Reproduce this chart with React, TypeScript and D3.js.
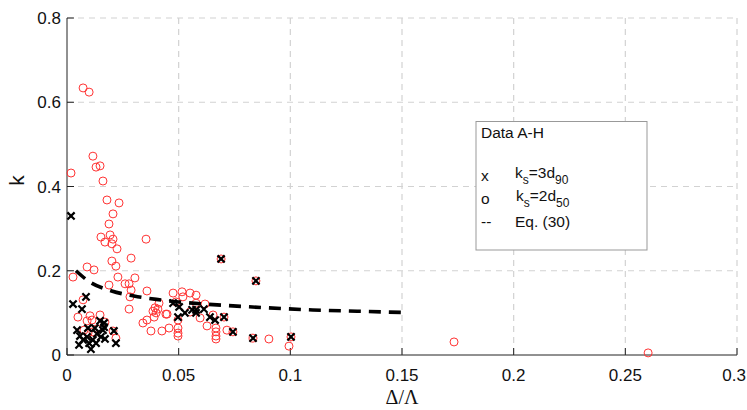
import React from "react";
import * as d3 from "d3";

// Red circles: k_s = 2 d50  [x, k]
const circleX = [0.0072,0.0099,0.0018,0.0116,0.013,0.0148,0.0161,0.0179,0.0233,0.0206,0.0188,0.0152,0.0193,0.017,0.0206,0.0201,0.0224,0.0354,0.0201,0.0219,0.0287,0.009,0.0121,0.0027,0.0228,0.0188,0.026,0.0278,0.0304,0.0287,0.0358,0.0282,0.0072,0.0278,0.0049,0.0103,0.009,0.0112,0.0148,0.017,0.0076,0.0094,0.0116,0.0134,0.0219,0.0206,0.034,0.0358,0.0385,0.0394,0.0412,0.0448,0.0376,0.0425,0.0457,0.0475,0.0515,0.0551,0.0578,0.0519,0.0407,0.0399,0.039,0.0443,0.0497,0.0497,0.0497,0.0497,0.0578,0.0618,0.0654,0.0627,0.0667,0.0667,0.0667,0.0667,0.0716,0.0904,0.0994,0.1733,0.2602,0.069,0.0846,0.1003,0.0833,0.0743,0.0488,0.0551,0.0596,0.0703];
const circleK = [0.634,0.624,0.432,0.472,0.446,0.449,0.413,0.368,0.361,0.335,0.311,0.28,0.285,0.268,0.275,0.264,0.252,0.275,0.223,0.211,0.23,0.209,0.202,0.185,0.185,0.166,0.169,0.169,0.183,0.154,0.152,0.138,0.131,0.109,0.09,0.093,0.081,0.083,0.095,0.078,0.059,0.052,0.055,0.062,0.04,0.057,0.076,0.083,0.104,0.112,0.123,0.097,0.057,0.057,0.064,0.147,0.15,0.147,0.142,0.138,0.109,0.1,0.09,0.097,0.083,0.052,0.045,0.064,0.123,0.121,0.095,0.069,0.064,0.055,0.045,0.038,0.059,0.038,0.021,0.031,0.005,0.228,0.176,0.043,0.04,0.055,0.126,0.102,0.088,0.09];

// Black crosses: k_s = 3 d90
const crossX = [0.0018,0.0027,0.0085,0.0067,0.0045,0.0058,0.0072,0.009,0.0099,0.0107,0.0116,0.013,0.0134,0.0148,0.0152,0.0161,0.0166,0.0166,0.017,0.021,0.0219,0.0475,0.0502,0.0497,0.0528,0.056,0.0578,0.0578,0.0613,0.064,0.0663,0.0703,0.0743,0.0833,0.069,0.0846,0.1003,0.0094,0.0125,0.0054];
const crossK = [0.33,0.121,0.138,0.109,0.059,0.045,0.036,0.043,0.028,0.014,0.036,0.028,0.05,0.081,0.043,0.059,0.066,0.076,0.038,0.057,0.028,0.123,0.114,0.09,0.1,0.107,0.1,0.107,0.109,0.09,0.083,0.09,0.055,0.04,0.228,0.176,0.043,0.064,0.064,0.024];

// Eq. (30) dashed curve
const eqX = [0.004,0.01,0.02,0.03,0.04,0.05,0.07,0.09,0.11,0.13,0.15];
const eqK = [0.2,0.174,0.152,0.14,0.132,0.126,0.118,0.112,0.107,0.104,0.101];

const xTicks = [0, 0.05, 0.1, 0.15, 0.2, 0.25, 0.3];
const yTicks = [0, 0.2, 0.4, 0.6, 0.8];

const W = 747, H = 410;
const M = { left: 67, right: 737, top: 18, bottom: 355 };

export default function App() {
  const x = d3.scaleLinear().domain([0, 0.3]).range([M.left, M.right]);
  const y = d3.scaleLinear().domain([0, 0.8]).range([M.bottom, M.top]);
  const line = d3.line<number>().x((_, i) => x(eqX[i])).y((_, i) => y(eqK[i])).curve(d3.curveMonotoneX);
  const font = "'Liberation Sans', Arial, Helvetica, sans-serif";
  const fmt = (v: number) => (v === 0 ? "0" : String(v));
  const red = "#ff3333";
  const s = 3.6;
  return (
    <svg width={W} height={H} style={{ position: "absolute", left: 0, top: 0, background: "#fff" }} fontFamily={font}>
      {/* grid */}
      {xTicks.filter(t => t > 0).map(t => (
        <line key={"gx" + t} x1={x(t)} x2={x(t)} y1={M.top} y2={M.bottom} stroke="#d2d2d2" strokeWidth={1.2} strokeDasharray="6,5" />
      ))}
      {yTicks.filter(t => t > 0).map(t => (
        <line key={"gy" + t} x1={M.left} x2={M.right} y1={y(t)} y2={y(t)} stroke="#d2d2d2" strokeWidth={1.2} strokeDasharray="6,5" />
      ))}
      {/* axes */}
      <line x1={M.left} x2={M.right} y1={M.bottom} y2={M.bottom} stroke="#222" strokeWidth={1} />
      <line x1={M.left} x2={M.left} y1={M.top} y2={M.bottom} stroke="#222" strokeWidth={1} />
      {xTicks.map((t, i) => (
        <g key={"tx" + t}>
          <line x1={x(t)} x2={x(t)} y1={M.bottom} y2={M.bottom - 7} stroke="#222" strokeWidth={1} />
          <text x={i === xTicks.length - 1 ? W - 1 : x(t)} y={M.bottom + 26} fontSize={17} textAnchor={i === xTicks.length - 1 ? "end" : "middle"} fill="#111">{fmt(t)}</text>
        </g>
      ))}
      {yTicks.map(t => (
        <g key={"ty" + t}>
          <line x1={M.left} x2={M.left + 7} y1={y(t)} y2={y(t)} stroke="#222" strokeWidth={1} />
          <text x={M.left - 6} y={y(t) + 6} fontSize={17} textAnchor="end" fill="#111">{fmt(t)}</text>
        </g>
      ))}
      <text x={(M.left + M.right) / 2} y={404} fontSize={20} textAnchor="middle" fontFamily="'Liberation Serif', 'Times New Roman', serif" fill="#111">Δ/Λ</text>
      <text transform={`translate(24,${(M.top + M.bottom) / 2 - 6}) rotate(-90)`} fontSize={21} textAnchor="middle" fill="#111">k</text>

      {/* red circles */}
      {circleX.map((v, i) => (
        <circle key={"c" + i} cx={x(v)} cy={y(circleK[i])} r={4} fill="none" stroke={red} strokeWidth={1} />
      ))}
      {/* black crosses */}
      {crossX.map((v, i) => {
        const cx = x(v), cy = y(crossK[i]);
        return (
          <path key={"x" + i} d={`M${cx - s},${cy - s}L${cx + s},${cy + s}M${cx - s},${cy + s}L${cx + s},${cy - s}`} stroke="#000" strokeWidth={2.2} />
        );
      })}
      {/* Eq. 30 */}
      <path d={line(eqX) || ""} fill="none" stroke="#000" strokeWidth={3.6} strokeDasharray="12,8" />

      {/* legend */}
      <g>
        <rect x={476} y={121.5} width={171} height={128.5} fill="#fff" stroke="#999" strokeWidth={1} />
        <text x={481} y={138} fontSize={15.5} fill="#111">Data A-H</text>
        <text x={481} y={181} fontSize={15.5} fill="#111">x</text>
        <text x={515} y={178} fontSize={15.5} fill="#111">k<tspan dy={6} fontSize={12}>s</tspan><tspan dy={-6}>=3d</tspan><tspan dy={6} fontSize={12}>90</tspan></text>
        <text x={481} y={204} fontSize={15.5} fill="#111">o</text>
        <text x={516} y={201} fontSize={15.5} fill="#111">k<tspan dy={6} fontSize={12}>s</tspan><tspan dy={-6}>=2d</tspan><tspan dy={6} fontSize={12}>50</tspan></text>
        <text x={481} y={227} fontSize={15.5} fill="#111">--</text>
        <text x={515} y={227} fontSize={15.5} fill="#111">Eq. (30)</text>
      </g>
    </svg>
  );
}
